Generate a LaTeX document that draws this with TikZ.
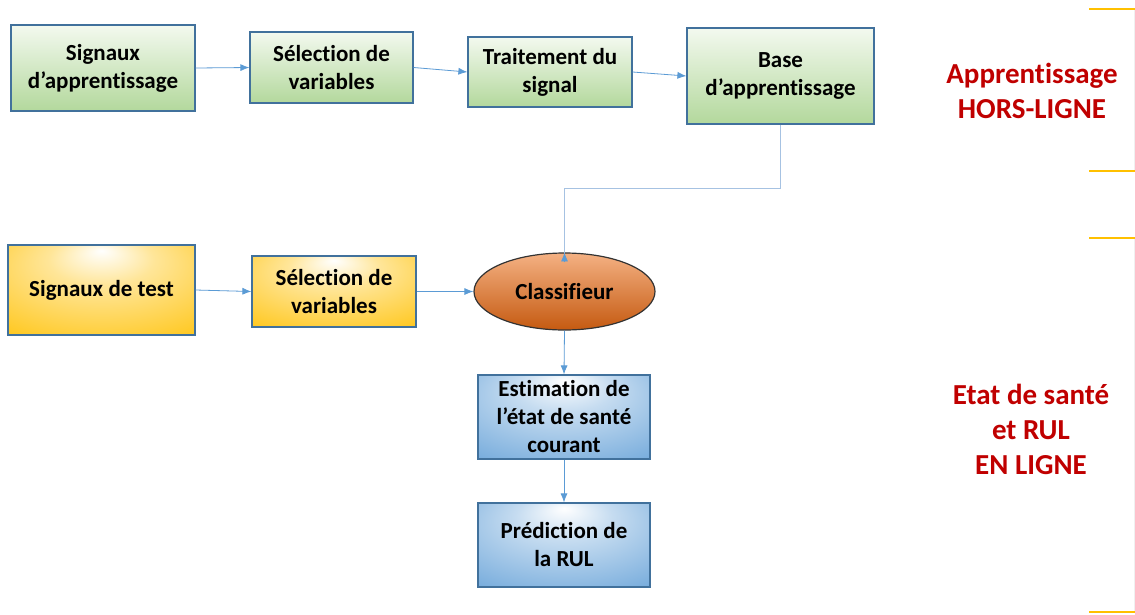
\documentclass[tikz,border=0pt]{standalone}
\usepackage{fontspec}
\setmainfont{Carlito}[Ligatures=NoCommon]
\usetikzlibrary{shapes.geometric,arrows.meta}
\definecolor{bordc}{HTML}{41719C}
\definecolor{arrc}{HTML}{5B9BD5}
\definecolor{arrlight}{HTML}{A6C2E2}
\definecolor{greentop}{HTML}{F3F9EF}
\definecolor{greenbot}{HTML}{B3D89C}
\definecolor{yellowc}{HTML}{FFC000}
\definecolor{bluec}{HTML}{5B9BD5}
\definecolor{orangetop}{HTML}{F4B183}
\definecolor{orangebot}{HTML}{C55A11}
\definecolor{redtxt}{HTML}{C00000}
\definecolor{goldline}{HTML}{FFC000}
\pgfdeclareradialshading{yellowrad}{\pgfpoint{0bp}{22bp}}{color(0bp)=(white); color(14bp)=(yellowc!40!white); color(42bp)=(yellowc!90!white); color(60bp)=(yellowc)}
\pgfdeclareradialshading{bluerad}{\pgfpoint{0bp}{22bp}}{color(0bp)=(white); color(14bp)=(bluec!35!white); color(42bp)=(bluec!85!white); color(60bp)=(bluec)}
\tikzset{
  box/.style={draw=bordc, line width=1.2pt, rectangle, align=center, font=\fontsize{23}{28}\selectfont\bfseries, inner sep=0pt},
  greenbox/.style={box, top color=greentop, bottom color=greenbot},
  yellowbox/.style={box, shading=yellowrad},
  bluebox/.style={box, shading=bluerad},
  arr/.style={draw=arrc, line width=0.8pt, -{Latex[length=9pt,width=7pt]}},
  arrl/.style={draw=arrlight, line width=0.9pt},
  sidelabel/.style={align=center, text=redtxt, font=\fontsize{29}{35}\selectfont\bfseries},
  goldrule/.style={draw=goldline, line width=2.2pt}
}
\begin{document}
\begin{tikzpicture}[x=1pt,y=-1pt]
\useasboundingbox[fill=white] (0,0) rectangle (1135,614);
% top row
\node[greenbox, minimum width=184pt, minimum height=86pt] (s1) at (103,68) {Signaux\\d'apprentissage};
\node[greenbox, minimum width=163pt, minimum height=71pt] (v1) at (331.5,67.5) {Sélection de\\variables};
\node[greenbox, minimum width=164pt, minimum height=70pt] (t1) at (550,72) {Traitement du\\signal};
\node[greenbox, minimum width=187pt, minimum height=96pt] (b1) at (780.5,76) {Base\\d'apprentissage};
% middle row
\node[yellowbox, minimum width=187pt, minimum height=90pt] (s2) at (101.5,290) {Signaux de test};
\node[yellowbox, minimum width=164pt, minimum height=71pt] (v2) at (334,291.5) {Sélection de\\variables};
\node[ellipse, draw=black!80, line width=1.2pt, top color=orangetop, bottom color=orangebot, minimum width=181pt, minimum height=77pt, inner sep=0pt, font=\fontsize{23}{28}\selectfont\bfseries] (c) at (564.5,291.5) {Classifieur};
% bottom
\node[bluebox, minimum width=172pt, minimum height=84pt] (e) at (564,417) {Estimation de\\l'état de santé\\courant};
\node[bluebox, minimum width=172pt, minimum height=84pt] (p) at (564,545) {Prédiction de\\la RUL};
% connectors
\draw[arr] (s1.east) -- (v1.west);
\draw[arr] (v1.east) -- (t1.west);
\draw[arr] (t1.east) -- (b1.west);
\coordinate (bend) at (780.5,188);
\draw[arrl] (b1.south) -- (bend) -| ([yshift=-9pt]c.north);
\draw[arr] ([yshift=-10pt]c.north) -- (c.north);
\draw[arr] (s2.east) -- (v2.west);
\draw[arr] (v2.east) -- (c.west);
\draw[arr] (c.south) -- (e.north);
\draw[arr] (e.south) -- (p.north);
% side labels
\node[sidelabel] (lab1) at (1032,91) {Apprentissage\\HORS-LIGNE};
\node[sidelabel] (lab2) at (1031,429) {Etat de santé\\et RUL\\EN LIGNE};
% gold rules
\coordinate (g1a) at (1089,9); \coordinate (g1b) at (1135,9);
\coordinate (g2a) at (1089,171); \coordinate (g2b) at (1135,171);
\coordinate (g3a) at (1089,238); \coordinate (g3b) at (1135,238);
\coordinate (g4a) at (1089,612); \coordinate (g4b) at (1135,612);
\draw[goldrule] (g1a) -- (g1b);
\draw[goldrule] (g2a) -- (g2b);
\draw[goldrule] (g3a) -- (g3b);
\draw[goldrule] (g4a) -- (g4b);
\draw[black!6, line width=0.5pt] (1134.5,10) -- (1134.5,170);
\draw[black!6, line width=0.5pt] (1134.5,239) -- (1134.5,611);
\end{tikzpicture}
\end{document}
